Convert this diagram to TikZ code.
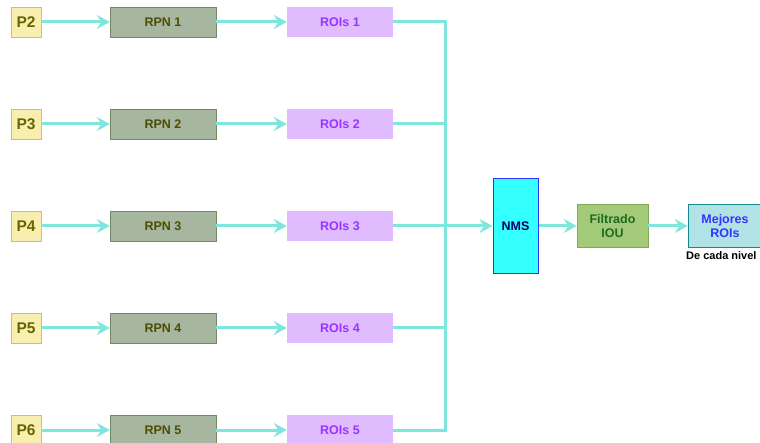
\documentclass[tikz,border=0pt]{standalone}
\usepackage{fontspec}
\setmainfont{Liberation Sans}
\usetikzlibrary{arrows.meta}
\definecolor{flow}{HTML}{7FE6DD}
\definecolor{pfill}{HTML}{F7EEB0}
\definecolor{pline}{HTML}{D9BE60}
\definecolor{ptext}{HTML}{666600}
\definecolor{rfill}{HTML}{A7B79F}
\definecolor{rline}{HTML}{708A66}
\definecolor{rtext}{HTML}{4D4D00}
\definecolor{ofill}{HTML}{E0BCFF}
\definecolor{otext}{HTML}{9933FF}
\definecolor{nfill}{HTML}{33FFFF}
\definecolor{nline}{HTML}{3333FF}
\definecolor{ntext}{HTML}{000066}
\definecolor{ffill}{HTML}{A3CA78}
\definecolor{fline}{HTML}{82A85C}
\definecolor{ftext}{HTML}{1E6B1E}
\definecolor{mfill}{HTML}{B1E2E6}
\definecolor{mline}{HTML}{128A90}
\definecolor{mtext}{HTML}{3333FF}
\tikzset{
  box/.style={inner sep=0pt, font=\bfseries\fontsize{12.5}{14.5}\selectfont, align=center},
  pbox/.style={box, draw=pline, fill=pfill, text=ptext, minimum width=30pt, minimum height=30pt, font=\bfseries\fontsize{15.5}{17}\selectfont},
  rbox/.style={box, draw=rline, fill=rfill, text=rtext, minimum width=106pt, minimum height=30pt},
  obox/.style={box, draw=none, fill=ofill, text=otext, minimum width=106pt, minimum height=30pt},
  flowline/.style={draw=flow, line width=3pt},
  flowarrow/.style={flowline, -{Stealth[length=13pt,width=14pt,inset=4.5pt]}}
}
\begin{document}
\begin{tikzpicture}[x=1pt,y=-1pt]
\useasboundingbox (0,0) rectangle (760,443);
\clip (0,0) rectangle (760,443);
% five pyramid levels, each with its own RPN and proposal set
\foreach \i/\yy in {1/22,2/124,3/226,4/328,5/430}{
  \pgfmathtruncatemacro{\lv}{\i+1}
  \node[pbox] (p\i) at (26,\yy) {P\lv};
  \node[rbox] (r\i) at (163,\yy) {RPN \i};
  \node[obox] (o\i) at (340,\yy) {ROIs \i};
  \draw[flowarrow] (p\i.east) -- (r\i.west);
  \draw[flowarrow] (r\i.east) -- (o\i.west);
}
% merge stage
\node[box, draw=nline, fill=nfill, text=ntext, minimum width=45pt, minimum height=95pt, line width=1pt] (nms) at (515.5,226) {NMS};
\node[box, draw=fline, fill=ffill, text=ftext, minimum width=71pt, minimum height=43pt] (fil) at (612.5,226) {Filtrado\\IOU};
\node[box, draw=mline, fill=mfill, text=mtext, minimum width=74pt, minimum height=43pt] (mej) at (725,226) {Mejores\\ROIs};
\node[font=\bfseries\fontsize{11}{13}\selectfont, anchor=north west, inner sep=0pt] (lbl) at (686,251) {De cada nivel};
\coordinate (bus) at (445,226);
% collector bus
\draw[flowline, line join=miter] (o1.east) -| (bus);
\draw[flowline, line join=miter] (o2.east) -| (bus);
\draw[flowline, line join=miter] (o4.east) -| (bus);
\draw[flowline, line join=miter] (o5.east) -| (bus);
\draw[flowarrow] (o3.east) -- (nms.west);
\draw[flowarrow] (nms.east) -- (fil.west);
\draw[flowarrow] (fil.east) -- (mej.west);
\end{tikzpicture}
\end{document}
